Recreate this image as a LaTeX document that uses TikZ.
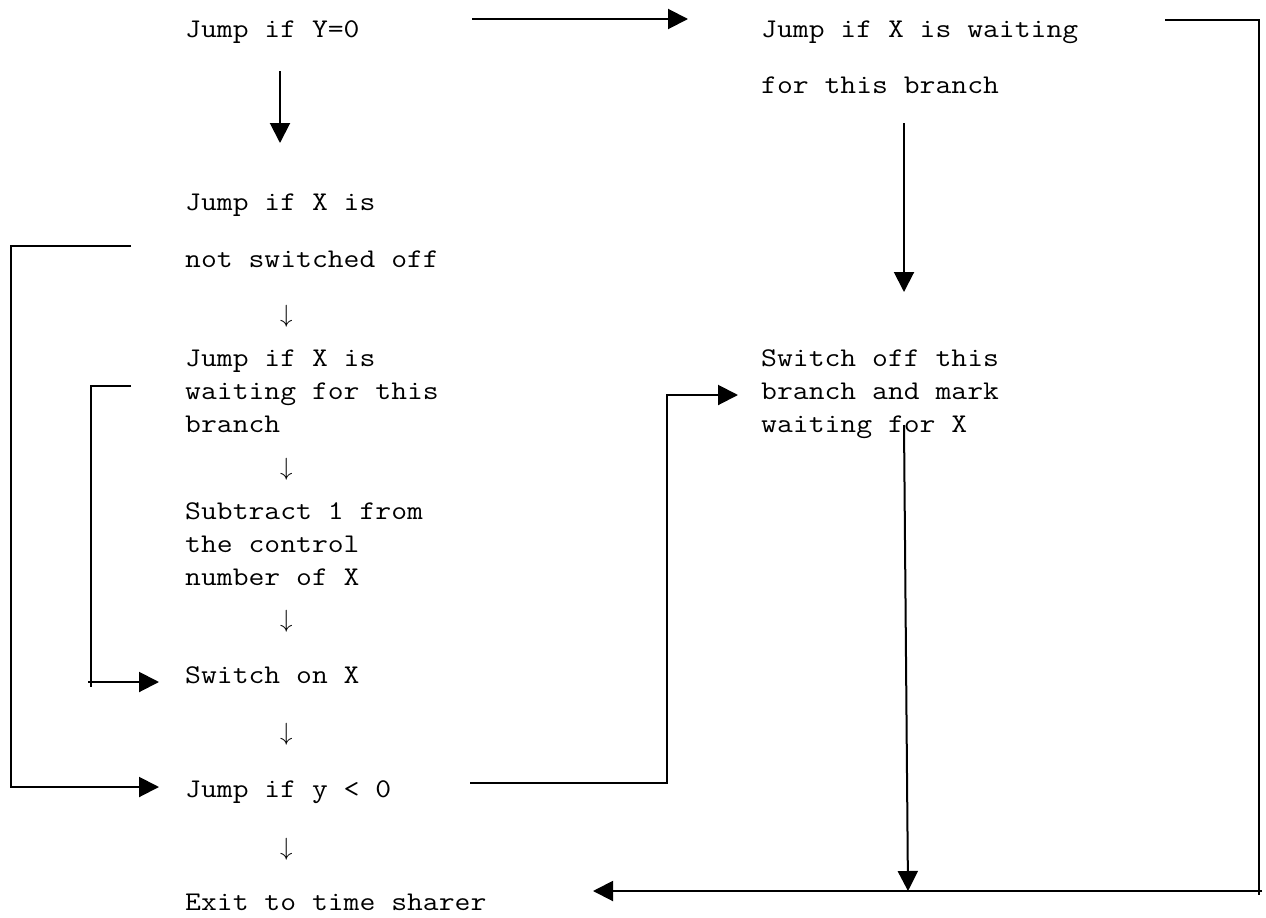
\documentclass[tikz,border=0pt]{standalone}
\usepackage{fontspec}
\setmonofont[FakeStretch=1.14]{Latin Modern Mono}
\usetikzlibrary{arrows.meta}
\begin{document}
\begin{tikzpicture}[x=1pt,y=-1pt,
  txt/.style={anchor=base west,inner sep=0pt,font=\fontsize{27}{30}\selectfont\ttfamily},
  dn/.style={anchor=base west,inner sep=0pt,font=\fontsize{27}{30}\selectfont},
  conn/.style={line width=2pt,-{Triangle[length=20pt,width=20pt]}},
  plain/.style={line width=2pt}]
\useasboundingbox (0,0) rectangle (1266,918);
% left column
\node[txt] (a1) at (185,37) {Jump if Y=0};
\node[txt] (b1) at (185,210) {Jump if X is};
\node[txt] (b2) at (185,267) {not switched off};
\node[dn] (d1) at (280,322) {$\downarrow$};
\node[txt] (c1) at (185,366) {Jump if X is};
\node[txt] (c2) at (185,399) {waiting for this};
\node[txt] (c3) at (185,432) {branch};
\node[dn] (d2) at (280,475) {$\downarrow$};
\node[txt] (e1) at (185,519) {Subtract 1 from};
\node[txt] (e2) at (185,552) {the control};
\node[txt] (e3) at (185,585) {number of X};
\node[dn] (d3) at (280,627) {$\downarrow$};
\node[txt] (f1) at (185,683) {Switch on X};
\node[dn] (d4) at (280,740) {$\downarrow$};
\node[txt] (g1) at (185,797) {Jump if y < 0};
\node[dn] (d5) at (280,855) {$\downarrow$};
\node[txt] (h1) at (185,910) {Exit to time sharer};
% right column
\node[txt] (r1) at (761,37) {Jump if X is waiting};
\node[txt] (r2) at (761,93) {for this branch};
\node[txt] (s1) at (761,366) {Switch off this};
\node[txt] (s2) at (761,399) {branch and mark};
\node[txt] (s3) at (761,432) {waiting for X};
% connector points
\coordinate (p1) at (472,19);
\coordinate (p2) at (688,19);
\coordinate (q1) at (280,71);
\coordinate (q2) at (280,143);
\coordinate (t1) at (1165,20);
\coordinate (t2) at (1259,20);
\coordinate (t3) at (1259,895);
\coordinate (t4) at (1262,891);
\coordinate (t5) at (593,891);
\coordinate (u1) at (904,123);
\coordinate (u2) at (904,292);
\coordinate (v1) at (904,425);
\coordinate (v2) at (908,891);
\coordinate (w1) at (131,246);
\coordinate (w2) at (11,246);
\coordinate (w3) at (11,787);
\coordinate (w4) at (159,787);
\coordinate (k1) at (131,386);
\coordinate (k2) at (91,386);
\coordinate (k3) at (91,687);
\coordinate (k0) at (88,682);
\coordinate (k4) at (159,682);
\coordinate (m1) at (470,783);
\coordinate (m2) at (667,783);
\coordinate (m3) at (667,395);
\coordinate (m4) at (738,395);
% connectors
\draw[conn] (p1) -- (p2);
\draw[conn] (q1) -- (q2);
\draw[plain] (t1) -- (t2) -- (t3);
\draw[conn] (t4) -- (t5);
\draw[conn] (u1) -- (u2);
\draw[conn] (v1) -- (v2);
\draw[conn] (w1) -- (w2) -- (w3) -- (w4);
\draw[plain] (k1) -- (k2) -- (k3);
\draw[conn] (k0) -- (k4);
\draw[conn] (m1) -- (m2) -- (m3) -- (m4);
\end{tikzpicture}
\end{document}
